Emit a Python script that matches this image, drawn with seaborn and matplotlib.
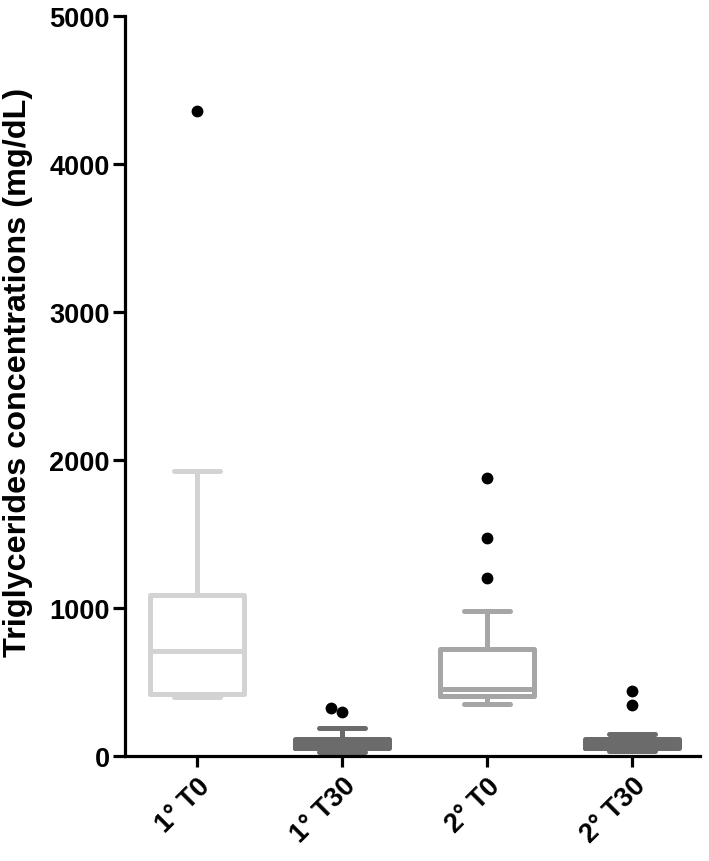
import numpy as np
import pandas as pd
import matplotlib
matplotlib.use("Agg")
import matplotlib.pyplot as plt
import seaborn as sns

# groups and box summary values (mg/dL)
groups = ["1° T0", "1° T30", "2° T0", "2° T30"]
whisker_low = [395, 25, 350, 35]
q1 = [420, 50, 405, 55]
median = [710, 80, 455, 80]
q3 = [1085, 112, 720, 115]
whisker_high = [1925, 185, 980, 150]
outliers = [[4360], [297, 324], [1200, 1470, 1880], [345, 440]]
box_colors = ["#d3d3d3", "#6b6b6b", "#a6a6a6", "#6b6b6b"]

sns.set_style("ticks")
plt.rcParams["font.family"] = ["Liberation Sans", "DejaVu Sans"]
plt.rcParams["font.weight"] = "bold"
plt.rcParams["text.color"] = "black"
plt.rcParams["axes.labelcolor"] = "black"
plt.rcParams["xtick.color"] = "black"
plt.rcParams["ytick.color"] = "black"

fig = plt.figure(figsize=(7.09, 8.62), dpi=100)
ax = fig.add_axes([0.176, 0.122, 0.811, 0.858])

# outlier dots (swarm spreads the ones that touch)
out_df = pd.DataFrame(
    [(groups[i], v) for i, vals in enumerate(outliers) for v in vals],
    columns=["group", "value"])
sns.swarmplot(data=out_df, x="group", y="value", order=groups,
              color="black", size=8.5, linewidth=0, ax=ax, zorder=5)

# boxes
for i, g in enumerate(groups):
    stats = [{
        "label": g,
        "whislo": whisker_low[i],
        "q1": q1[i],
        "med": median[i],
        "q3": q3[i],
        "whishi": whisker_high[i],
        "fliers": [],
    }]
    line = dict(color=box_colors[i], linewidth=3.6,
                solid_capstyle="round", solid_joinstyle="round")
    ax.bxp(stats, positions=[i], widths=0.65, capwidths=0.32,
           showfliers=False, patch_artist=False,
           boxprops=line, whiskerprops=line, capprops=line,
           medianprops=line, manage_ticks=False)

ax.set_xlim(-0.5, 3.466)
ax.set_ylim(0, 5000)
ax.set_yticks(np.arange(0, 5001, 1000))
ax.set_xticks(range(len(groups)))
ax.set_xticklabels(groups, rotation=45, ha="right", rotation_mode="anchor",
                   fontsize=19.5, fontweight="bold", color="black")
for lab in ax.get_yticklabels():
    lab.set_fontsize(19.5)
    lab.set_fontweight("bold")
    lab.set_color("black")
ax.set_xlabel("")
ax.set_ylabel("Triglycerides concentrations (mg/dL)", fontsize=23.3,
              fontweight="bold", color="black")
ax.yaxis.set_label_coords(-0.16, 0.52)

sns.despine(ax=ax)
for side in ["left", "bottom"]:
    ax.spines[side].set_linewidth(2.3)
    ax.spines[side].set_color("black")
ax.tick_params(axis="y", length=9, width=2.3, color="black", pad=2)
ax.tick_params(axis="x", length=8, width=2.3, color="black", pad=4)

fig.savefig("out.png", dpi=100)
